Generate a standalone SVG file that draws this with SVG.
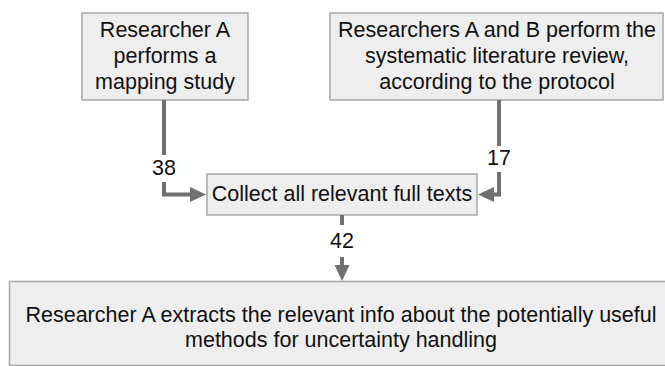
<svg xmlns="http://www.w3.org/2000/svg" width="665" height="366" viewBox="0 0 665 366">
  <style>
    .box { fill: #eeeeee; stroke: #a6a6a6; stroke-width: 1.5; }
    .txt { font-family: "Liberation Sans", Arial, sans-serif; font-size: 21.5px; fill: #111111; text-anchor: middle; }
    .edge { fill: none; stroke: #707070; stroke-width: 4; }
  </style>
  <defs>
    <!-- arrowhead starts where the path ends: 16 long, 15 wide -->
    <marker id="arrow" viewBox="0 0 16 15" refX="0" refY="7.5" markerWidth="16" markerHeight="15" orient="auto" markerUnits="userSpaceOnUse">
      <path d="M0,0 L16,7.5 L0,15 z" fill="#707070"/>
    </marker>
  </defs>
  <rect width="665" height="366" fill="#ffffff"/>

  <g id="mapping-study">
    <rect class="box" x="82" y="13" width="166" height="87"/>
    <text class="txt" x="165" y="37">Researcher A</text>
    <text class="txt" x="165" y="63">performs a</text>
    <text class="txt" x="165" y="89">mapping study</text>
  </g>

  <g id="slr">
    <rect class="box" x="330" y="13" width="333" height="87"/>
    <text class="txt" x="497" y="37">Researchers A and B perform the</text>
    <text class="txt" x="497" y="63">systematic literature review,</text>
    <text class="txt" x="497" y="89">according to the protocol</text>
  </g>

  <g id="collect">
    <rect class="box" x="207" y="174" width="270" height="41"/>
    <text class="txt" x="342" y="201">Collect all relevant full texts</text>
  </g>

  <g id="extract">
    <rect class="box" x="9.5" y="281.5" width="664" height="84"/>
    <text class="txt" x="341" y="322">Researcher A extracts the relevant info about the potentially useful</text>
    <text class="txt" x="341" y="347">methods for uncertainty handling</text>
  </g>

  <g id="connectors">
    <path class="edge" d="M164,100 V155"/>
    <path class="edge" d="M164,182 V194.5 H190" marker-end="url(#arrow)"/>
    <text class="txt" x="164" y="175">38</text>

    <path class="edge" d="M499,100 V146"/>
    <path class="edge" d="M499,172 V194.5 H494" marker-end="url(#arrow)"/>
    <text class="txt" x="499" y="165">17</text>

    <path class="edge" d="M342,215 V225"/>
    <path class="edge" d="M342,257 V265" marker-end="url(#arrow)"/>
    <text class="txt" x="342" y="248">42</text>
  </g>
</svg>
